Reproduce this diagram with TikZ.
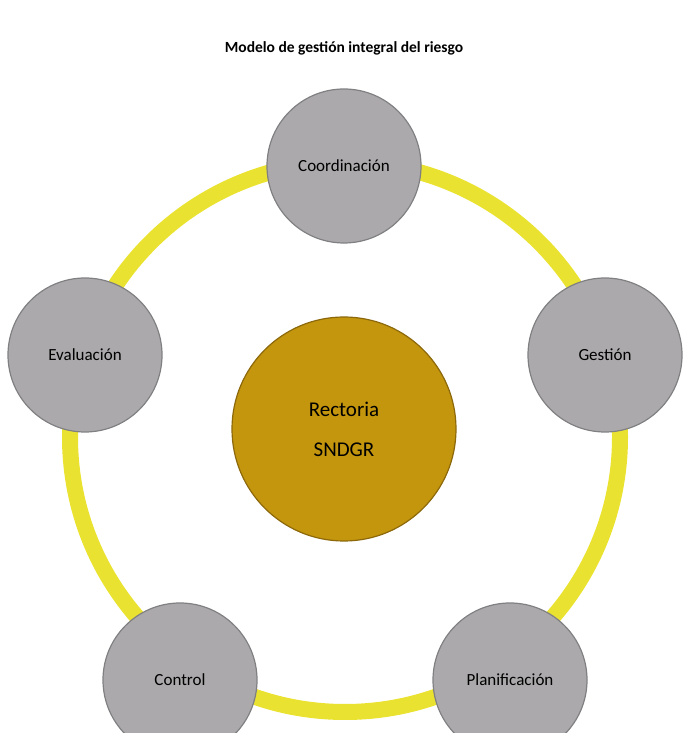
\documentclass[tikz,border=0pt]{standalone}
\usepackage{fontspec}
\setmainfont{Carlito}
\definecolor{ringyellow}{RGB}{234,226,48}
\definecolor{stagegray}{RGB}{171,169,171}
\definecolor{stageline}{RGB}{128,128,130}
\definecolor{coregold}{RGB}{196,150,14}
\definecolor{coreline}{RGB}{140,104,10}

\begin{document}
\begin{tikzpicture}[x=1pt, y=1pt,
    stage/.style={circle, fill=stagegray, draw=stageline, line width=1.2pt,
      minimum size=154pt, inner sep=0pt, font=\fontsize{17}{20}\selectfont},
    core/.style={circle, fill=coregold, draw=coreline, line width=1.2pt,
      minimum size=224pt, inner sep=0pt, align=center,
      font=\fontsize{21}{40}\selectfont},
    ring/.style={draw=ringyellow, line width=16pt}]
    \useasboundingbox (0,0) rectangle (688,733);
    \clip (0,0) rectangle (688,733);
    \node[font=\bfseries\fontsize{15.5}{18}\selectfont] (title) at (344,685) {Modelo de gestión integral del riesgo};
    \coordinate (mid) at (345,296);
    \draw[ring] (mid) circle (275);
    \node[core] (rect) at (344,304) {Rectoria\\SNDGR};
    \node[stage] (coord) at (344,567) {Coordinación};
    \node[stage] (gest) at (605,378) {Gestión};
    \node[stage] (plan) at (510,53) {Planificación};
    \node[stage] (ctrl) at (180,53) {Control};
    \node[stage] (eval) at (85,378) {Evaluación};
  \end{tikzpicture}
\end{document}
